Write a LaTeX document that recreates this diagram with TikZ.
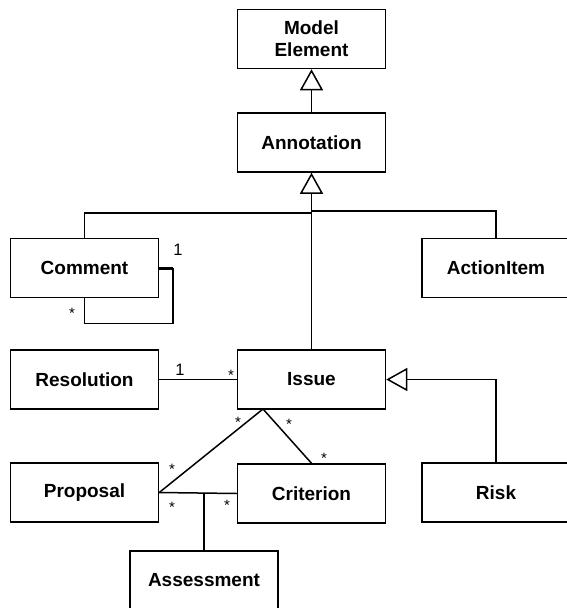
\documentclass[tikz,border=0pt]{standalone}
\usepackage{fontspec}
\setmainfont{Liberation Sans}
\usetikzlibrary{arrows.meta}
\begin{document}
\begin{tikzpicture}[x=1pt,y=-1pt,
  cls/.style={draw, line width=1.5pt, fill=white, minimum width=148pt, minimum height=59pt,
    inner sep=0pt, align=center, font=\fontsize{19}{22}\selectfont\bfseries},
  conn/.style={line width=1.5pt},
  gen/.style={conn, -{Triangle[open, length=21pt, width=23pt, fill=white]}},
  mult/.style={inner sep=0pt, font=\fontsize{15}{15}\selectfont},
  one/.style={inner sep=0pt, font=\fontsize{16.5}{16.5}\selectfont}]
\clip (0,0) rectangle (567,608);
\fill[white] (0,0) rectangle (567,608);

% classes
\node[cls] (me) at (311.5,39) {Model\\Element};
\node[cls] (ann) at (311.5,142.5) {Annotation};
\node[cls] (comment) at (84.5,268) {Comment};
\node[cls] (action) at (496,268) {ActionItem};
\node[cls] (resolution) at (84.5,379.5) {Resolution};
\node[cls] (issue) at (311.5,379.5) {Issue};
\node[cls] (proposal) at (84.5,492.5) {Proposal};
\node[cls] (criterion) at (311.5,493.5) {Criterion};
\node[cls] (risk) at (496,492.5) {Risk};
\node[cls] (assessment) at (204,580.5) {Assessment};

% generalizations
\draw[gen] (ann.north) -- (me.south);
\draw[gen] (issue.north) -- (ann.south);
\coordinate (jl) at (311.5,213);
\coordinate (jr) at (311.5,211);
\draw[conn] (comment.north) |- (jl);
\draw[conn] (jr) -| (action.north);
\draw[gen] (risk.north) |- (issue.east);

% comment self-association
\coordinate (loopr) at (173,268);
\draw[conn] (comment.south) -- ++(0,25) -| (loopr);
\draw[line width=3pt] (comment.east) -- (loopr);
\node[one] (m1) at (178,250) {1};
\node[mult] (m2) at (72,313) {*};

% resolution - issue
\draw[conn] (resolution.east) -- (issue.west);
\node[one] (m3) at (180,370) {1};
\node[mult] (m4) at (231,375) {*};

% issue - proposal / criterion
\coordinate (apex) at (263,409);
\draw[conn] (apex) -- (proposal.east);
\draw[conn] (apex) -- (criterion.north);
\node[mult] (m5) at (238,422) {*};
\node[mult] (m6) at (289,424) {*};
\node[mult] (m7) at (172,469) {*};
\node[mult] (m8) at (324,458) {*};

% proposal - criterion with association class
\draw[conn] (proposal.east) -- (criterion.west);
\draw[conn] (assessment.north) -- (assessment.north |- criterion.west);
\node[mult] (m9) at (172,507) {*};
\node[mult] (m10) at (227,505) {*};
\end{tikzpicture}
\end{document}
